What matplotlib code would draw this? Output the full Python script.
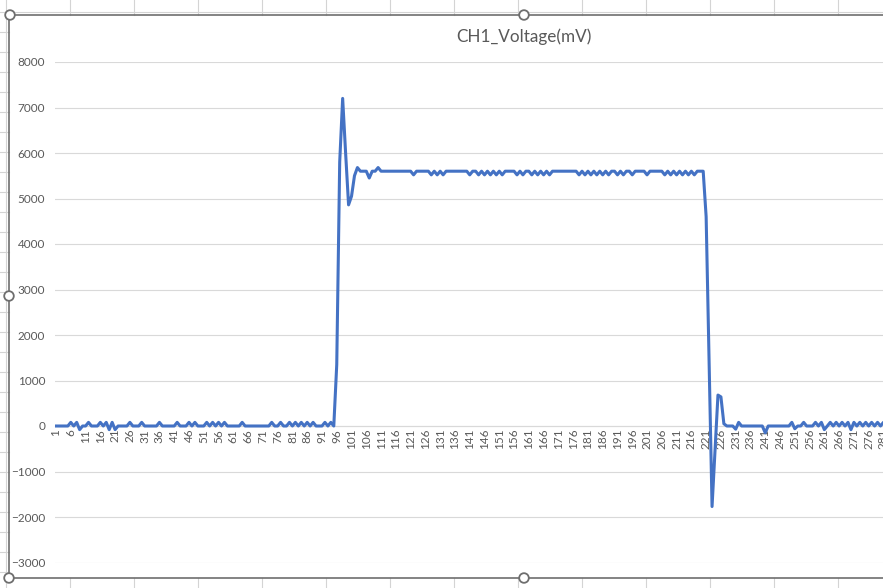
import numpy as np
import matplotlib.pyplot as plt
from matplotlib.patches import Circle

plt.rcParams['font.family'] = ['Lato', 'DejaVu Sans']

# CH1 voltage (mV) per sample
idle_before = [
    0, 0, 0, 0, 0, 80, 0, 80, -80, 0,
    0, 80, 0, 0, 0, 80, 0, 80, -80, 80,
    -80, 0, 0, 0, 0, 80, 0, 0, 0, 80,
    0, 0, 0, 0, 0, 80, 0, 0, 0, 0,
    0, 80, 0, 0, 0, 80, 0, 80, 0, 0,
    0, 80, 0, 80, 0, 80, 0, 80, 0, 0,
    0, 0, 0, 80, 0, 0, 0, 0, 0, 0,
    0, 0, 0, 80, 0, 0, 80, 0, 0, 80,
    0, 80, 0, 80, 0, 80, 0, 80, 0, 0,
    0, 80, 0, 80, 0,
]
rising_edge = [1350, 5800, 7200, 6000, 4860, 5050, 5500, 5680, 5600, 5600,
               5600, 5450, 5600, 5600, 5680]
plateau = [
    5600, 5600, 5600, 5600, 5600, 5600, 5600, 5600, 5600, 5600,
    5600, 5520, 5600, 5600, 5600, 5600, 5600, 5520, 5600, 5520,
    5600, 5520, 5600, 5600, 5600, 5600, 5600, 5600, 5600, 5600,
    5520, 5600, 5600, 5520, 5600, 5520, 5600, 5520, 5600, 5520,
    5600, 5520, 5600, 5600, 5600, 5600, 5520, 5600, 5520, 5600,
    5600, 5520, 5600, 5520, 5600, 5520, 5600, 5520, 5600, 5600,
    5600, 5600, 5600, 5600, 5600, 5600, 5600, 5520, 5600, 5520,
    5600, 5520, 5600, 5520, 5600, 5520, 5600, 5520, 5600, 5600,
    5520, 5600, 5520, 5600, 5600, 5520, 5600, 5600, 5600, 5600,
    5520, 5600, 5600, 5600, 5600, 5600, 5520, 5600, 5520, 5600,
    5520, 5600, 5520, 5600, 5520, 5600, 5520, 5600, 5600, 5600,
]
falling_edge = [4600, 1400, -1770, -545, 680, 640, 50]
idle_after = [
    0, 0, 0,
    -70, 80, 0, 0, 0, 0, 0, 0, 0, 0,
    -150, 0, 0, 0, 0, 0, 0, 0, 0, 80,
    -60, 0, 0, 80, 0, 0, 0, 80, 0, 80,
    -80, 0, 80, 0, 80, 0, 80, 0, 80, -80,
    80, 0, 80, 0, 80, 0, 80, 0, 80, 0, 80, 0,
]

voltage = idle_before + rising_edge + plateau + falling_edge + idle_after
samples = np.arange(1, len(voltage) + 1)
y_ticks = list(range(-3000, 8001, 1000))
x_ticks = list(range(1, len(voltage) + 1, 5))
title = 'CH1_Voltage(mV)'

W, H = 883, 588
grey_text = '#595959'
grid_col = '#d9d9d9'


def box(x0, y0, x1, y1):
    return [x0 / W, 1 - y1 / H, (x1 - x0) / W, (y1 - y0) / H]


fig = plt.figure(figsize=(W / 100, H / 100), dpi=100)

# plot area (runs past the right edge like the cropped screenshot)
ax = fig.add_axes(box(55, 62, 900, 562.5))
# category axis crosses at 0, set before the ticks (it resets them)
for s in ['top', 'right', 'left']:
    ax.spines[s].set_visible(False)
ax.spines['bottom'].set_position(('data', 0))
ax.spines['bottom'].set_color(grid_col)
ax.spines['bottom'].set_linewidth(0.8)
ax.spines['bottom'].set_zorder(0)

ax.plot(samples, voltage, color='#4472C4', lw=2.2, solid_joinstyle='round')
ax.set_ylim(-3000, 8000)
ax.set_xlim(0.66, 286.6)
ax.set_yticks(y_ticks)
ax.set_xticks(x_ticks)
ax.set_xticklabels([str(t) for t in x_ticks])
ax.grid(axis='y', color=grid_col, lw=0.8)
ax.set_axisbelow(True)
ax.tick_params(axis='y', length=0, pad=7, labelsize=8.5, labelcolor=grey_text)
ax.tick_params(axis='x', length=0, pad=2, labelsize=8.5, labelcolor=grey_text,
               labelrotation=90)

# spreadsheet + chart frame drawn in pixel space
ov = fig.add_axes([0, 0, 1, 1], zorder=5)
ov.set_xlim(0, W)
ov.set_ylim(H, 0)
ov.axis('off')
ov.patch.set_alpha(0)

cell_col = '#d4d4d4'
for cx in range(70, W, 64):
    ov.plot([cx, cx], [0, 15], color=cell_col, lw=0.8)
    ov.plot([cx, cx], [578, H], color=cell_col, lw=0.8)
ov.plot([6, 6], [0, H], color=cell_col, lw=0.8)
ov.plot([0, W], [11.7, 11.7], color=cell_col, lw=0.8)
for ry in np.arange(31.7, H, 20):
    ov.plot([0, 9], [ry, ry], color=cell_col, lw=0.8)

frame_col = '#6e6e6e'
ov.plot([9, W], [15, 15], color=frame_col, lw=1.2)
ov.plot([9, W], [578, 578], color=frame_col, lw=1.2)
ov.plot([9, 9], [15, 578], color=frame_col, lw=1.2)
for hx, hy in [(10, 15), (524, 15), (9, 296), (9, 578), (524, 578)]:
    ov.add_patch(Circle((hx, hy), 4.8, facecolor='white', edgecolor=frame_col, lw=1.3, zorder=6))

ov.text(524, 37, title, ha='center', va='center', fontsize=12.3, color=grey_text)

fig.savefig('out.png', dpi=100)
